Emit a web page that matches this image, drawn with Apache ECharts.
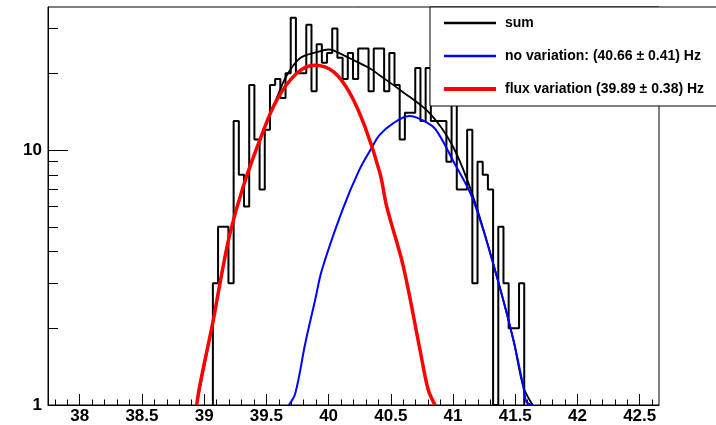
<!DOCTYPE html>
<html>
<head>
<meta charset="utf-8">
<script src="https://cdn.jsdelivr.net/npm/echarts@6/dist/echarts.min.js"></script>
<style>
  html, body { margin: 0; padding: 0; background: #fff; }
  #main { width: 716px; height: 425px; }
</style>
</head>
<body>
<div id="main"></div>
<script>
// histogram: first bin edge, bin width, counts per bin
const binStart = 39.07
const binWidth = 0.0417
const counts = [
  3, 5, 5, 3, 13, 8, 6, 18, 11, 7,
  12, 18, 19, 16, 20, 33, 20, 20, 31, 17,
  26, 22, 24, 30, 23, 19, 24, 19, 25, 25,
  17, 25, 25, 17, 24, 18, 11, 14, 14, 21,
  13, 21, 13, 13, 13, 9, 17, 7, 7, 12,
  3, 9, 8, 7, 1, 5, 3, 2, 2, 3
]

// fitted curves
const sumX = [38.94, 39.073, 39.207, 39.314, 39.449, 39.583, 39.663, 39.77, 39.904, 40.0, 40.038, 40.17, 40.333, 40.413, 40.574, 40.815, 41.0, 41.16, 41.351, 41.485, 41.565, 41.64]
const sumY = [1, 2.15, 4.7, 7.2, 11.0, 16.0, 19.6, 22.9, 24.2, 24.8, 24.6, 22.9, 20.9, 19.6, 17.2, 13.9, 10.3, 6.6, 3.2, 1.8, 1.18, 1]

const noVarX = [39.68, 39.732, 39.813, 39.893, 39.947, 40.11, 40.244, 40.351, 40.405, 40.515, 40.649, 40.78, 40.863, 40.999, 41.16, 41.351, 41.485, 41.565, 41.59, 41.64]
const noVarY = [1, 1.11, 1.75, 2.6, 3.4, 5.8, 8.3, 10.3, 11.4, 12.7, 13.6, 12.9, 12.0, 9.1, 6.4, 3.2, 1.8, 1.18, 1.03, 1]

const fluxX = [38.94, 38.966, 39.073, 39.127, 39.207, 39.314, 39.449, 39.583, 39.744, 39.89, 40.038, 40.172, 40.293, 40.413, 40.467, 40.6, 40.735, 40.8, 40.855]
const fluxY = [1, 1.2, 2.15, 3.0, 4.7, 7.2, 11.0, 15.7, 20.0, 21.5, 20.3, 16.7, 12.3, 8.1, 6.0, 3.5, 1.64, 1.15, 1]

const seriesNames = ['sum', 'no variation: (40.66 \u00b1 0.41) Hz', 'flux variation (39.89 \u00b1 0.38) Hz']
const seriesColors = ['#000000', '#0000ff', '#ff0000']
const seriesWidths = [1.8, 2, 3.5]

// axes
const xMin = 37.745
const xMax = 42.655
const xMajorTicks = [38, 38.5, 39, 39.5, 40, 40.5, 41, 41.5, 42, 42.5]
const xMinorTicks = [37.8, 37.9, 38.1, 38.2, 38.3, 38.4, 38.6, 38.7, 38.8, 38.9, 39.1, 39.2, 39.3, 39.4, 39.6, 39.7, 39.8, 39.9,
  40.1, 40.2, 40.3, 40.4, 40.6, 40.7, 40.8, 40.9, 41.1, 41.2, 41.3, 41.4, 41.6, 41.7, 41.8, 41.9, 42.1, 42.2, 42.3, 42.4, 42.6]
const yMin = 1
const yMax = 36.4
const yMajorTicks = [1, 10]
const yMinorTicks = [2, 3, 4, 5, 6, 7, 8, 9, 20, 30]

const font = 'Liberation Sans, Arial, Helvetica, sans-serif'

function pairs(xs, ys) {
  return xs.map((x, i) => [x, ys[i]])
}

// step outline of the histogram, from the bottom up and back down
function histOutline() {
  let pts = [[binStart, yMin]]
  for (let i = 0; i < counts.length; i++) {
    pts.push([binStart + i * binWidth, counts[i]])
  }
  pts.push([binStart + counts.length * binWidth, yMin])
  return pts
}

function curve(i, xs, ys) {
  return {
    name: seriesNames[i], type: 'line', data: pairs(xs, ys), smooth: 0.35,
    symbol: 'none',
    lineStyle: { color: seriesColors[i], width: seriesWidths[i] },
    itemStyle: { color: seriesColors[i] }
  }
}

const chart = echarts.init(document.getElementById('main'), null, { renderer: 'canvas' })

const option = {
  animation: false,
  backgroundColor: '#fff',
  grid: {
    left: 48, top: 7, width: 611, height: 398,
    show: true, borderColor: '#000', borderWidth: 1
  },
  legend: {
    data: seriesNames.map((n, i) => ({ name: n, lineStyle: { width: seriesWidths[i] + 0.5, color: seriesColors[i] } })),
    orient: 'vertical',
    left: 430, top: 7,
    backgroundColor: '#fff',
    borderColor: '#000', borderWidth: 1,
    padding: [9, 80, 10, 12],
    itemGap: 19, itemWidth: 52, itemHeight: 14,
    selectedMode: false,
    itemStyle: { opacity: 0 },
    textStyle: { fontFamily: font, fontSize: 14, fontWeight: 'bold', color: '#000', padding: [0, 0, 0, 4] }
  },
  xAxis: [
    {
      type: 'value', min: xMin, max: xMax, position: 'bottom',
      axisLine: { lineStyle: { color: '#000', width: 1 } },
      axisTick: { inside: true, length: 11, customValues: xMajorTicks, lineStyle: { color: '#000' } },
      axisLabel: { customValues: xMajorTicks, fontFamily: font, fontSize: 17, fontWeight: 'bold', color: '#000', margin: 3 },
      splitLine: { show: false }
    },
    {
      type: 'value', min: xMin, max: xMax, position: 'bottom',
      axisLine: { show: false },
      axisTick: { inside: true, length: 5.5, customValues: xMinorTicks, lineStyle: { color: '#000' } },
      axisLabel: { show: false },
      splitLine: { show: false }
    }
  ],
  yAxis: [
    {
      type: 'log', logBase: 10, min: yMin, max: yMax, position: 'left',
      axisLine: { show: true, lineStyle: { color: '#000', width: 1 } },
      axisTick: { inside: true, length: 20, customValues: yMajorTicks, lineStyle: { color: '#000' } },
      axisLabel: { customValues: yMajorTicks, fontFamily: font, fontSize: 17, fontWeight: 'bold', color: '#000', margin: 6 },
      splitLine: { show: false }
    },
    {
      type: 'log', logBase: 10, min: yMin, max: yMax, position: 'left',
      axisLine: { show: false },
      axisTick: { inside: true, length: 10, customValues: yMinorTicks, lineStyle: { color: '#000' } },
      axisLabel: { show: false },
      splitLine: { show: false }
    }
  ],
  series: [
    {
      name: 'data', type: 'line', step: 'end', data: histOutline(),
      symbol: 'none', lineStyle: { color: '#000', width: 2 }, itemStyle: { color: '#000' }
    },
    curve(0, sumX, sumY),
    curve(1, noVarX, noVarY),
    curve(2, fluxX, fluxY)
  ]
}

chart.setOption(option)
</script>
</body>
</html>
